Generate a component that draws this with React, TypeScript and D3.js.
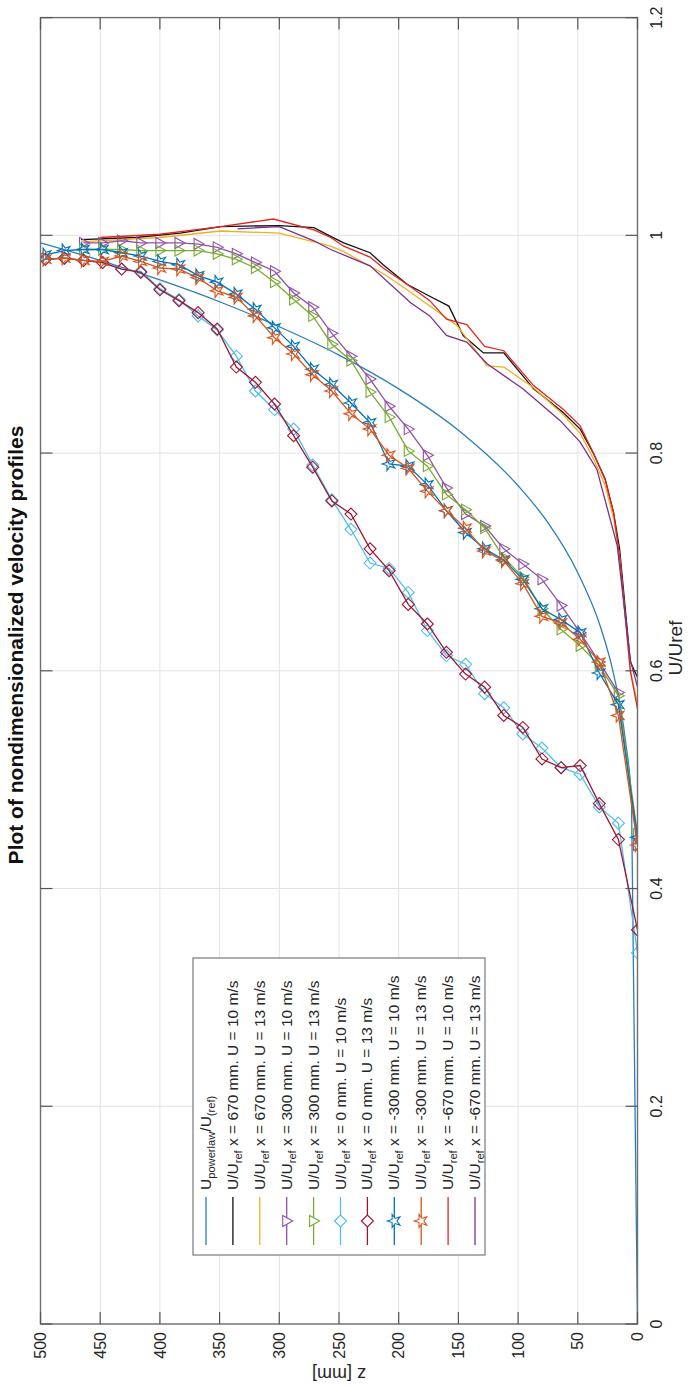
import React from 'react';
import * as d3 from 'd3';

// chart is drawn upright in a 1386 x 700 frame, then turned -90deg into the 700 x 1386 page
const W = 1386;
const H = 700;
const FONT = 'Liberation Sans, Arial, Helvetica, sans-serif';

const uTicks = [0, 0.2, 0.4, 0.6, 0.8, 1, 1.2];
const zTicks = [0, 50, 100, 150, 200, 250, 300, 350, 400, 450, 500];

// traverse heights [mm]
const zPoints = [496, 480, 464, 448, 432, 416, 400, 384, 368, 352, 336, 320, 304, 288, 272, 256,
  240, 224, 208, 192, 176, 160, 144, 128, 112, 96, 80, 64, 48, 32, 16, 0];
const zTriangles = zPoints.slice(2);

const zPowerlaw = [500, 450, 400, 350, 300, 250, 200, 150, 100, 75, 50, 30, 20, 10, 5, 0];
const uPowerlaw = [0.993, 0.977, 0.959, 0.939, 0.916, 0.89, 0.859, 0.821, 0.77, 0.736, 0.69, 0.637, 0.597, 0.535, 0.48, 0];

const z670u10 = [466, 420, 383, 349, 300, 271, 257, 246, 224, 213, 193, 174, 158, 146, 129, 112, 87, 62, 48, 37, 27, 20, 15, 6, 0];
const u670u10 = [0.996, 0.998, 1.002, 1.008, 1.009, 1.007, 0.999, 0.993, 0.984, 0.973, 0.955, 0.944, 0.935, 0.908, 0.892, 0.892, 0.859, 0.837, 0.822, 0.8, 0.776, 0.745, 0.712, 0.608, 0.594];

const z670u13 = [466, 400, 349, 300, 257, 246, 213, 193, 174, 151, 126, 112, 87, 62, 48, 37, 27, 20, 15, 6, 0];
const u670u13 = [0.994, 0.998, 1.004, 1.002, 0.99, 0.985, 0.965, 0.95, 0.935, 0.917, 0.88, 0.879, 0.86, 0.835, 0.818, 0.795, 0.77, 0.74, 0.705, 0.6, 0.57];

const u300u10 = [0.993, 0.993, 0.995, 0.993, 0.993, 0.993, 0.992, 0.989, 0.983, 0.975, 0.967, 0.947, 0.934, 0.91, 0.889,
  0.868, 0.843, 0.822, 0.798, 0.768, 0.744, 0.733, 0.712, 0.698, 0.684, 0.66, 0.635, 0.608, 0.58, 0.44];
const u300u13 = [0.987, 0.987, 0.987, 0.986, 0.986, 0.986, 0.986, 0.983, 0.978, 0.97, 0.957, 0.941, 0.926, 0.9, 0.885,
  0.856, 0.833, 0.802, 0.788, 0.762, 0.748, 0.731, 0.704, 0.686, 0.657, 0.638, 0.623, 0.605, 0.577, 0.45];

const u0u10 = [0.978, 0.979, 0.977, 0.975, 0.969, 0.967, 0.951, 0.941, 0.926, 0.913, 0.889, 0.857, 0.84, 0.822, 0.789, 0.757,
  0.73, 0.699, 0.694, 0.672, 0.637, 0.614, 0.606, 0.579, 0.566, 0.542, 0.529, 0.511, 0.505, 0.475, 0.46, 0.341];
const u0u13 = [0.978, 0.979, 0.977, 0.975, 0.969, 0.966, 0.95, 0.94, 0.929, 0.914, 0.879, 0.865, 0.845, 0.816, 0.787, 0.756,
  0.744, 0.712, 0.692, 0.661, 0.643, 0.617, 0.597, 0.585, 0.559, 0.548, 0.519, 0.511, 0.513, 0.478, 0.445, 0.362];

const uM300u10 = [0.982, 0.986, 0.987, 0.987, 0.984, 0.981, 0.976, 0.973, 0.963, 0.957, 0.946, 0.932, 0.915, 0.898, 0.877, 0.863,
  0.846, 0.828, 0.79, 0.788, 0.771, 0.747, 0.727, 0.712, 0.702, 0.684, 0.657, 0.647, 0.635, 0.598, 0.569, 0.447];
const uM300u13 = [0.978, 0.979, 0.977, 0.976, 0.981, 0.976, 0.97, 0.969, 0.961, 0.949, 0.943, 0.926, 0.906, 0.891, 0.872, 0.857,
  0.836, 0.822, 0.798, 0.786, 0.765, 0.747, 0.731, 0.71, 0.701, 0.68, 0.65, 0.644, 0.629, 0.608, 0.559, 0.44];

const zM670u10 = [450, 400, 349, 305, 271, 257, 246, 224, 213, 193, 174, 160, 143, 128, 112, 87, 62, 48, 37, 27, 20, 15, 6, 0];
const uM670u10 = [0.998, 1.001, 1.008, 1.015, 1.005, 0.998, 0.99, 0.98, 0.97, 0.955, 0.94, 0.923, 0.918, 0.898, 0.894, 0.862, 0.84, 0.825, 0.8, 0.775, 0.745, 0.705, 0.6, 0.565];

const zM670u13 = [335, 300, 271, 257, 224, 190, 174, 160, 143, 126, 96, 65, 48, 34, 17, 6, 0];
const uM670u13 = [1.006, 1.008, 0.995, 0.987, 0.972, 0.938, 0.926, 0.908, 0.902, 0.882, 0.859, 0.83, 0.81, 0.785, 0.715, 0.61, 0.585];

const runLabel = (x: string, u: string) => [['U/U', false], ['ref', true], [` x = ${x} mm. U = ${u} m/s`, false]];

const series = [
  { label: [['U', false], ['powerlaw', true], ['/U', false], ['(ref)', true]], color: '#2a7fba', z: zPowerlaw, u: uPowerlaw, marker: null, smooth: true },
  { label: runLabel('670', '10'), color: '#111111', z: z670u10, u: u670u10, marker: null },
  { label: runLabel('670', '13'), color: '#EDB120', z: z670u13, u: u670u13, marker: null },
  { label: runLabel('300', '10'), color: '#9150a8', z: zTriangles, u: u300u10, marker: 'tri' },
  { label: runLabel('300', '13'), color: '#77AC30', z: zTriangles, u: u300u13, marker: 'tri' },
  { label: runLabel('0', '10'), color: '#4DBEEE', z: zPoints, u: u0u10, marker: 'diamond' },
  { label: runLabel('0', '13'), color: '#A2142F', z: zPoints, u: u0u13, marker: 'diamond' },
  { label: runLabel('-300', '10'), color: '#0072BD', z: zPoints, u: uM300u10, marker: 'star' },
  { label: runLabel('-300', '13'), color: '#D95319', z: zPoints, u: uM300u13, marker: 'star' },
  { label: runLabel('-670', '10'), color: '#E3261E', z: zM670u10, u: uM670u10, marker: null },
  { label: runLabel('-670', '13'), color: '#7E2F8E', z: zM670u13, u: uM670u13, marker: null },
];

const markerPath = (m: string | null) => {
  if (m === 'tri') return 'M-5.5,-4L5.5,-4L0,6Z';
  if (m === 'diamond') return 'M0,-6L6,0L0,6L-6,0Z';
  if (m === 'star') return d3.symbol(d3.symbolStar, 55)() as string;
  return null;
};

const Label = ({ x, y, parts, size }: any) => {
  let shift = 0;
  return (
    <text x={x} y={y} fontSize={size} fill="#262626" style={{ whiteSpace: 'pre' }}>
      {parts.map(([t, sub]: [string, boolean], i: number) => {
        const target = sub ? 4 : 0;
        const dy = target - shift;
        shift = target;
        return (
          <tspan key={i} dy={dy} fontSize={sub ? size * 0.72 : size}>{t}</tspan>
        );
      })}
    </text>
  );
};

export default function App() {
  const x = d3.scaleLinear().domain([0, 1.2]).range([62, 1368.4]);
  const y = d3.scaleLinear().domain([0, 500]).range([637.5, 40.5]);
  const [x0, x1] = x.range();
  const [y0, y1] = y.range();

  const line = d3.line<[number, number]>().x(d => x(d[1])).y(d => y(d[0]));
  const smoothLine = d3.line<[number, number]>().x(d => x(d[1])).y(d => y(d[0])).curve(d3.curveMonotoneY);

  const legendTop = 193;
  const rowH = 26.9;

  return (
    <div style={{ position: 'absolute', left: 0, top: 0 }}>
      <svg width={700} height={1386} style={{ display: 'block', fontFamily: FONT }}>
        <rect width={700} height={1386} fill="#ffffff" />
        <g transform={`translate(0,${W}) rotate(-90)`}>
          <defs>
            <clipPath id="plotClip">
              <rect x={x0} y={y1} width={x1 - x0} height={y0 - y1} />
            </clipPath>
          </defs>

          {/* grid */}
          {uTicks.map(t => (
            <line key={'gx' + t} x1={x(t)} x2={x(t)} y1={y1} y2={y0} stroke="#e3e3e3" strokeWidth={1} />
          ))}
          {zTicks.map(t => (
            <line key={'gy' + t} x1={x0} x2={x1} y1={y(t)} y2={y(t)} stroke="#e3e3e3" strokeWidth={1} />
          ))}

          {/* series */}
          <g clipPath="url(#plotClip)">
            {series.map((s, i) => {
              const pts = s.z.map((z, k) => [z, s.u[k]] as [number, number]);
              const mp = markerPath(s.marker);
              return (
                <g key={i}>
                  <path d={(s.smooth ? smoothLine : line)(pts) as string} fill="none" stroke={s.color} strokeWidth={1.3} />
                  {mp && pts.map((p, k) => (
                    <path key={k} d={mp} transform={`translate(${x(p[1])},${y(p[0])})`} fill="none" stroke={s.color} strokeWidth={1.1} />
                  ))}
                </g>
              );
            })}
          </g>

          {/* frame and ticks */}
          <rect x={x0} y={y1} width={x1 - x0} height={y0 - y1} fill="none" stroke="#707070" strokeWidth={1.4} />
          {uTicks.map(t => (
            <g key={'tx' + t}>
              <line x1={x(t)} x2={x(t)} y1={y0} y2={y0 - 12} stroke="#555" strokeWidth={1.2} />
              <line x1={x(t)} x2={x(t)} y1={y1} y2={y1 + 12} stroke="#555" strokeWidth={1.2} />
              <text x={x(t)} y={y0 + 24} textAnchor="middle" fontSize={16} fill="#262626">{String(t)}</text>
            </g>
          ))}
          {zTicks.map(t => (
            <g key={'ty' + t}>
              <line x1={x0} x2={x0 + 12} y1={y(t)} y2={y(t)} stroke="#555" strokeWidth={1.2} />
              <line x1={x1} x2={x1 - 12} y1={y(t)} y2={y(t)} stroke="#555" strokeWidth={1.2} />
              <text x={x0 - 8} y={y(t)} dy="0.35em" textAnchor="end" fontSize={16} fill="#262626">{t}</text>
            </g>
          ))}

          {/* axis labels and title */}
          <text x={738} y={682} textAnchor="middle" fontSize={19} fill="#262626">U/Uref</text>
          <text transform={`translate(18,${(y0 + y1) / 2}) rotate(-90)`} textAnchor="middle" fontSize={18} fill="#262626">z [mm]</text>
          <text x={741} y={23} textAnchor="middle" fontSize={21} fontWeight="bold" fill="#111">
            Plot of nondimensionalized  velocity profiles
          </text>

          {/* legend */}
          <rect x={131} y={legendTop} width={297} height={292} fill="#ffffff" stroke="#7a7a7a" strokeWidth={1.2} />
          {series.map((s, i) => {
            const cy = legendTop + 13 + rowH * i;
            const mp = markerPath(s.marker);
            return (
              <g key={'lg' + i}>
                <line x1={141} x2={189} y1={cy} y2={cy} stroke={s.color} strokeWidth={1.3} />
                {mp && <path d={mp} transform={`translate(165,${cy})`} fill="#fff" stroke={s.color} strokeWidth={1.1} />}
                <Label x={196} y={cy + 5} parts={s.label} size={15.5} />
              </g>
            );
          })}
        </g>
      </svg>
    </div>
  );
}
